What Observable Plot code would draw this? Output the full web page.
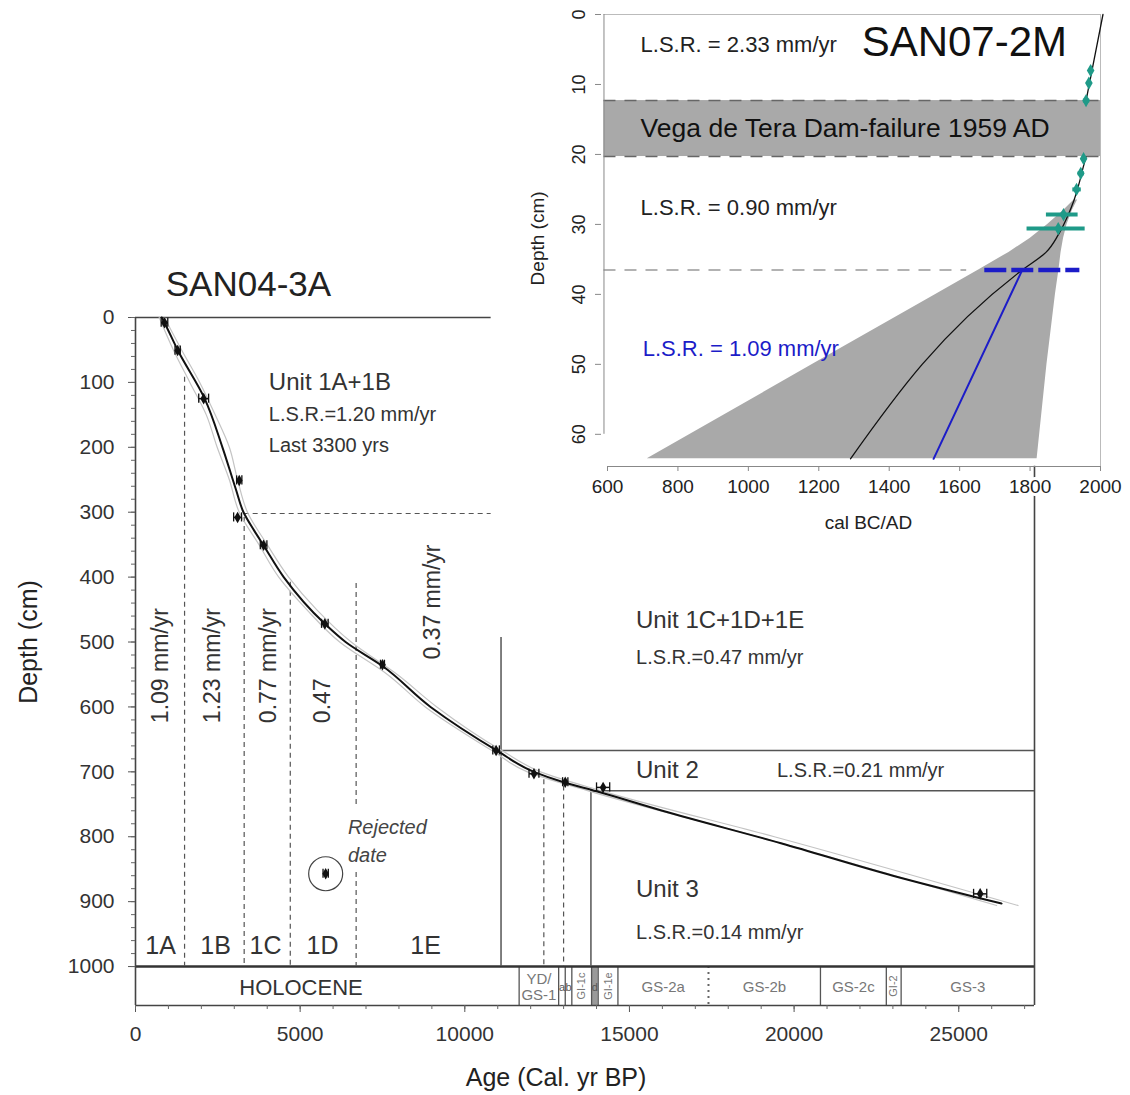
<!DOCTYPE html>
<html><head><meta charset="utf-8">
<script src="https://cdn.jsdelivr.net/npm/d3@7"></script>
<script src="https://cdn.jsdelivr.net/npm/@observablehq/plot@0.6"></script>
<style>
body{margin:0;background:#fff;}
#wrap{position:relative;width:1130px;height:1095px;}
#wrap svg{position:absolute;}
</style></head><body><div id="wrap"></div>
<script>
// ---------- Main core SAN04-3A ----------
const depthTicks = [0,100,200,300,400,500,600,700,800,900,1000];
const depthMinor = d3.range(0, 1001, 20);
const ageTicks = [0,5000,10000,15000,20000,25000];
const ageMinor = d3.range(0, 27001, 1000);

const dateAge   = [880,1280,2070,3150,3100,3890,5750,7500,10950,12100,13050,14200,25650];
const dateDepth = [8,51,125,251,308,351,472,535,667,703,716,724,888];
const dateErr   = [100,80,150,80,120,100,100,60,100,150,80,200,200];
const rejectedAge = [5775], rejectedDepth = [857], rejectedErr = [80];

const curveAge   = [800,900,1300,2100,2640,3050,3280,3600,3900,4500,5750,6380,7500,8960,11000,12100,13000,14000,16000,19600,23000,26300];
const curveDepth = [0,10,52,125,200,265,300,328,352,400,472,500,537,600,668,700,716,730,760,810,860,903];

const envDepth = [0,50,100,150,200,250,300,350,400,450,500,550,600,668,700,730,800,906];
const envMin   = [720,1150,1650,2150,2480,2850,3150,3750,4350,5200,6200,7650,8800,10850,11900,13800,18900,26150];
const envMax   = [880,1400,1950,2420,2850,3100,3400,4000,4650,5500,6550,7950,9150,11150,12300,14200,19400,26800];

// dashed sub-unit boundaries: age, top depth, bottom depth
const dashAge = [1490,3300,4700,6700,6700,12400,13000];
const dashTop = [92,308,408,410,855,712,722];
const dashBot = [1000,1000,1000,755,1000,1000,1000];

// chronozones (Greenland stratigraphy)
const zoneStart = [0,11650,12850,13050,13250,13850,14050,14650,17400,20800,22800,23250];
const zoneEnd   = [11650,12850,13050,13250,13850,14050,14650,17400,20800,22800,23250,27300];
const zoneName  = ["HOLOCENE","YD/\nGS-1","a","b","GI-1c","d","GI-1e","GS-2a","GS-2b","GS-2c","GI-2","GS-3"];
const zoneShaded= [false,false,false,false,false,true,false,false,false,false,false,false];
const zoneRot   = [false,false,false,false,true,false,true,false,false,false,true,false];
const zoneDotted= [17400];

const subUnits = ["1A","1B","1C","1D","1E"];
const subUnitAge = [760,2430,3950,5680,8810];

const rateLabels = ["1.09 mm/yr","1.23 mm/yr","0.77 mm/yr","0.47","0.37 mm/yr"];
const rateAge = [760,2330,4030,5680,9030];
const rateBottom = [625,625,625,625,527];

const F = "'Liberation Sans', Arial, sans-serif";
const zones = zoneStart.map((s,i)=>({s, e: zoneEnd[i], name: zoneName[i], shaded: zoneShaded[i], rot: zoneRot[i]}));
const dates = dateAge.map((a,i)=>({age:a, depth:dateDepth[i], err:dateErr[i]}));
const rejected = rejectedAge.map((a,i)=>({age:a, depth:rejectedDepth[i], err:rejectedErr[i]}));
const curve = curveAge.map((a,i)=>({age:a, depth:curveDepth[i]}));
const env = envDepth.map((d,i)=>({depth:d, lo:envMin[i], hi:envMax[i]}));
const dashes = dashAge.map((a,i)=>({age:a, top:dashTop[i], bot:dashBot[i]}));
const allDates = dates.concat(rejected);
const boundaries = zoneStart.slice(1).filter(b => !zoneDotted.includes(b));

const ink = "#333";
const main = Plot.plot({
  width: 1130, height: 1095,
  marginLeft: 135, marginRight: 96, marginTop: 317, marginBottom: 90,
  x: {domain: [0, 27300]},
  y: {domain: [0, 1060], reverse: true},
  style: {fontFamily: F, background: "transparent", overflow: "visible", color: ink},
  marks: [
    // chronozone band
    Plot.rect(zones.filter(z=>z.shaded), {x1:"s", x2:"e", y1:1000, y2:1060, fill:"#9a9a9a"}),
    Plot.ruleX(boundaries, {x: d=>d, y1:1000, y2:1060, stroke:"#555", strokeWidth:1.3}),
    Plot.ruleX(zoneDotted, {x: d=>d, y1:1000, y2:1060, stroke:"#666", strokeWidth:2, strokeDasharray:"2,4"}),
    Plot.text(zones.filter(z=>z.name==="HOLOCENE"), {x: d=>(d.s+d.e)/2 - 800, y:1033, text:"name", fontSize:22, fill:"#333"}),
    Plot.text(zones.filter(z=>!z.rot && z.name!=="HOLOCENE" && z.name.length>2), {x: d=>(d.s+d.e)/2, y:1031, text:"name", fontSize:15, fill:"#777", lineHeight:1.05}),
    Plot.text(zones.filter(z=>!z.rot && z.name.length<=2), {x: d=>(d.s+d.e)/2, y:1032, text:"name", fontSize:11, fill:"#555"}),
    Plot.text(zones.filter(z=>z.rot), {x: d=>(d.s+d.e)/2, y:1030, text:"name", fontSize:11, fill:"#777", rotate:-90}),
    // frame
    Plot.ruleY([1000], {x1:0, x2:27300, stroke:"#333", strokeWidth:2.4}),
    Plot.ruleY([1060], {x1:0, x2:27300, stroke:"#444", strokeWidth:1.6}),
    Plot.ruleY([0], {x1:0, x2:10800, stroke:"#444", strokeWidth:1.6}),
    Plot.ruleX([0], {y1:0, y2:1060, stroke:"#444", strokeWidth:1.6}),
    Plot.ruleX([27300], {y1:229, y2:1060, stroke:"#444", strokeWidth:1.6}),
    // axes
    Plot.axisY({ticks: depthTicks, anchor:"left", tickSize:7, tickPadding:14, fontSize:21, label:null, tickFormat: d=>String(d), stroke:"#555", fill:"#333"}),
    Plot.axisY({ticks: depthMinor, anchor:"left", tickSize:4, tickFormat: ()=>"", label:null, stroke:"#666"}),
    Plot.axisX({ticks: ageTicks, anchor:"bottom", tickSize:7, tickPadding:14, fontSize:21, label:null, tickFormat: d=>String(d), stroke:"#555", fill:"#333"}),
    Plot.axisX({ticks: ageMinor, anchor:"bottom", tickSize:4, tickFormat: ()=>"", label:null, stroke:"#666"}),
    // unit boundaries
    Plot.ruleX(dashes, {x:"age", y1:"top", y2:"bot", stroke:"#555", strokeWidth:1.2, strokeDasharray:"5,4"}),
    Plot.ruleY([302], {x1:3300, x2:10800, stroke:"#555", strokeWidth:1.2, strokeDasharray:"5,4"}),
    Plot.ruleX([11100], {y1:493, y2:1000, stroke:"#555", strokeWidth:1.5}),
    Plot.ruleY([667], {x1:11100, x2:27300, stroke:"#555", strokeWidth:1.5}),
    Plot.ruleY([729], {x1:13830, x2:27300, stroke:"#555", strokeWidth:1.5}),
    Plot.ruleX([13830], {y1:729, y2:1000, stroke:"#555", strokeWidth:1.5}),
    // age-depth model
    Plot.line(env, {x:"lo", y:"depth", curve:"monotone-y", stroke:"#c4c4c4", strokeWidth:1.2}),
    Plot.line(env, {x:"hi", y:"depth", curve:"monotone-y", stroke:"#c4c4c4", strokeWidth:1.2}),
    Plot.line(curve, {x:"age", y:"depth", curve:"monotone-y", stroke:"#111", strokeWidth:2}),
    // dates
    Plot.link(allDates, {x1: d=>d.age-d.err, x2: d=>d.age+d.err, y1:"depth", y2:"depth", stroke:"#111", strokeWidth:1.5}),
    Plot.ruleX(allDates, {x: d=>d.age-d.err, y1: d=>d.depth-7, y2: d=>d.depth+7, stroke:"#111", strokeWidth:1.3}),
    Plot.ruleX(allDates, {x: d=>d.age+d.err, y1: d=>d.depth-7, y2: d=>d.depth+7, stroke:"#111", strokeWidth:1.3}),
    Plot.dot(allDates, {x:"age", y:"depth", symbol:"diamond", r:3.5, fill:"#111"}),
    Plot.dot(rejected, {x:"age", y:"depth", r:17, stroke:"#444", strokeWidth:1.2, fill:"none"}),
    // text
    Plot.text(["SAN04-3A"], {x:3430, y:-50, fontSize:35, fill:"#222"}),
    Plot.text(["Depth (cm)"], {x:0, y:500, dx:-107, rotate:-90, fontSize:25, fill:"#222"}),
    Plot.text(["Age (Cal. yr BP)"], {x:12770, y:1172, fontSize:25, fill:"#222"}),
    Plot.text(["Unit 1A+1B"], {x:4050, y:100, textAnchor:"start", fontSize:24}),
    Plot.text(["L.S.R.=1.20 mm/yr"], {x:4050, y:150, textAnchor:"start", fontSize:20}),
    Plot.text(["Last 3300 yrs"], {x:4050, y:198, textAnchor:"start", fontSize:20}),
    Plot.text(rateLabels, {x:(d,i)=>rateAge[i], y:(d,i)=>rateBottom[i], text:d=>d, rotate:-90, textAnchor:"start", fontSize:23}),
    Plot.text(["Unit 1C+1D+1E"], {x:15200, y:467, textAnchor:"start", fontSize:24}),
    Plot.text(["L.S.R.=0.47 mm/yr"], {x:15200, y:524, textAnchor:"start", fontSize:20}),
    Plot.text(["Unit 2"], {x:15200, y:698, textAnchor:"start", fontSize:24}),
    Plot.text(["L.S.R.=0.21 mm/yr"], {x:19480, y:698, textAnchor:"start", fontSize:20}),
    Plot.text(["Unit 3"], {x:15200, y:881, textAnchor:"start", fontSize:24}),
    Plot.text(["L.S.R.=0.14 mm/yr"], {x:15200, y:948, textAnchor:"start", fontSize:20}),
    Plot.text(subUnits, {x:(d,i)=>subUnitAge[i], y:968, text:d=>d, fontSize:25}),
    Plot.text(["Rejected\ndate"], {x:6450, y:804, textAnchor:"start", fontSize:20, fontStyle:"italic", fill:"#444", lineHeight:1.4})
  ]
});
main.style.left = "0px"; main.style.top = "0px";
document.getElementById("wrap").appendChild(main);

// ---------- Inset SAN07-2M ----------
const insetDepthTicks = [0,10,20,30,40,50,60];
const insetAgeTicks = [600,800,1000,1200,1400,1600,1800,2000];
const damBandTop = [12.3], damBandBottom = [20.3];
const topLineAge = [2007,1959], topLineDepth = [0,12.3];
const midAge   = [1959,1950,1940,1925,1905,1880,1845,1778,1290];
const midDepth = [20.3,22,24,26.5,29,31.5,34,36.5,63.5];
const blueAge = [1778,1526], blueDepth = [36.5,63.5];
const shadeDepth = [26.5,28,30,32,34,36.5,40,50,63.5];
const shadeMin   = [1925,1895,1850,1800,1740,1654,1532,1183,713];
const shadeMax   = [1935,1920,1905,1895,1888,1882,1872,1848,1820];
const tealDepth = [8.0,9.8,12.3,20.6,22.7,25.0,28.6,30.6];
const tealAge   = [1972,1967,1959,1952,1944,1932,1895,1880];
const tealLo    = [1966,1961,1950,1946,1935,1920,1845,1790];
const tealHi    = [1978,1973,1968,1958,1953,1944,1935,1955];
const blueDateDepth = [36.5], blueDateLo = [1670], blueDateHi = [1940];

const FN = "'Liberation Sans Narrow', 'Liberation Sans', Arial, sans-serif";
const shade = shadeDepth.map((d,i)=>({depth:d, lo:shadeMin[i], hi:shadeMax[i]}));
const mid = midAge.map((a,i)=>({age:a, depth:midDepth[i]}));
const topL = topLineAge.map((a,i)=>({age:a, depth:topLineDepth[i]}));
const blue = blueAge.map((a,i)=>({age:a, depth:blueDepth[i]}));
const teal = tealDepth.map((d,i)=>({depth:d, age:tealAge[i], lo:tealLo[i], hi:tealHi[i]}));
const tealC = "#1f9a88";
const blueC = "#1c1cc8";

const inset = Plot.plot({
  width: 610, height: 545,
  marginLeft: 87, marginRight: 30, marginTop: 14, marginBottom: 79,
  x: {domain: [600, 2000]},
  y: {domain: [0, 64.6], reverse: true},
  style: {fontFamily: FN, background: "transparent", overflow: "visible", color: "#222"},
  marks: [
    Plot.rect(damBandTop, {x1:590, x2:2000, y1:d=>d, y2:(d,i)=>damBandBottom[i], fill:"#a9a9a9"}),
    Plot.ruleY(damBandTop.concat(damBandBottom), {x1:590, x2:2000, stroke:"#666", strokeWidth:1.5, strokeDasharray:"12,9"}),
    Plot.ruleY(blueDateDepth, {x1:590, x2:1620, stroke:"#999", strokeWidth:1.5, strokeDasharray:"12,9"}),
    Plot.areaX(shade, {x1:"lo", x2:"hi", y:"depth", fill:"#a9a9a9"}),
    Plot.ruleY([0], {x1:590, x2:2000, stroke:"#bbb"}),
    Plot.ruleX([2000], {y1:0, y2:64.6, stroke:"#bbb"}),
    // axes
    Plot.ruleX([590], {y1:0, y2:60, stroke:"#888"}),
    Plot.axisY({ticks: insetDepthTicks, anchor:"left", tickSize:6, dx:-6, tickFormat:()=>"", label:null, stroke:"#888"}),
    Plot.text(insetDepthTicks, {x:590, y:d=>d, dx:-25, rotate:-90, text:d=>String(d), fontSize:18, fill:"#222"}),
    Plot.ruleY([64.6], {x1:600, x2:2000, stroke:"#888"}),
    Plot.axisX({ticks: insetAgeTicks, anchor:"bottom", tickSize:5, tickPadding:8, fontSize:19, label:null, tickFormat: d=>String(d), stroke:"#888", fill:"#222", textStroke:"white", textStrokeWidth:6}),
    Plot.text(["Depth (cm)"], {x:600, y:32, dx:-70, rotate:-90, fontSize:19}),
    Plot.text(["cal BC/AD"], {x:1341, y:72.7, fontSize:19, stroke:"white", strokeWidth:5, fill:"#222"}),
    // model lines
    Plot.line(mid, {x:"age", y:"depth", curve:"monotone-y", stroke:"#111", strokeWidth:1.3}),
    Plot.line(blue, {x:"age", y:"depth", stroke:blueC, strokeWidth:2}),
    Plot.line(topL, {x:"age", y:"depth", stroke:"#111", strokeWidth:1.3}),
    Plot.link(teal, {x1:"lo", x2:"hi", y1:"depth", y2:"depth", stroke:tealC, strokeWidth:4}),
    Plot.dot(teal, {x:"age", y:"depth", symbol:"diamond", r:4, fill:tealC}),
    Plot.link(blueDateDepth, {x1:(d,i)=>blueDateLo[i], x2:(d,i)=>blueDateHi[i], y1:d=>d, y2:d=>d, stroke:blueC, strokeWidth:4.5, strokeDasharray:"22,5"}),
    // text
    Plot.text(["L.S.R. = 2.33 mm/yr"], {x:694, y:4.4, textAnchor:"start", fontSize:22}),
    Plot.text(["SAN07-2M"], {x:1905, y:4, textAnchor:"end", fontSize:42, fill:"#111"}),
    Plot.text(["Vega de Tera Dam-failure 1959 AD"], {x:694, y:16.3, textAnchor:"start", fontSize:26.5, fill:"#111"}),
    Plot.text(["L.S.R. = 0.90 mm/yr"], {x:694, y:27.7, textAnchor:"start", fontSize:22}),
    Plot.text(["L.S.R. = 1.09 mm/yr"], {x:700, y:47.8, textAnchor:"start", fontSize:22, fill:blueC})
  ]
});
inset.style.left = "520px"; inset.style.top = "0px";
document.getElementById("wrap").appendChild(inset);
</script></body></html>
